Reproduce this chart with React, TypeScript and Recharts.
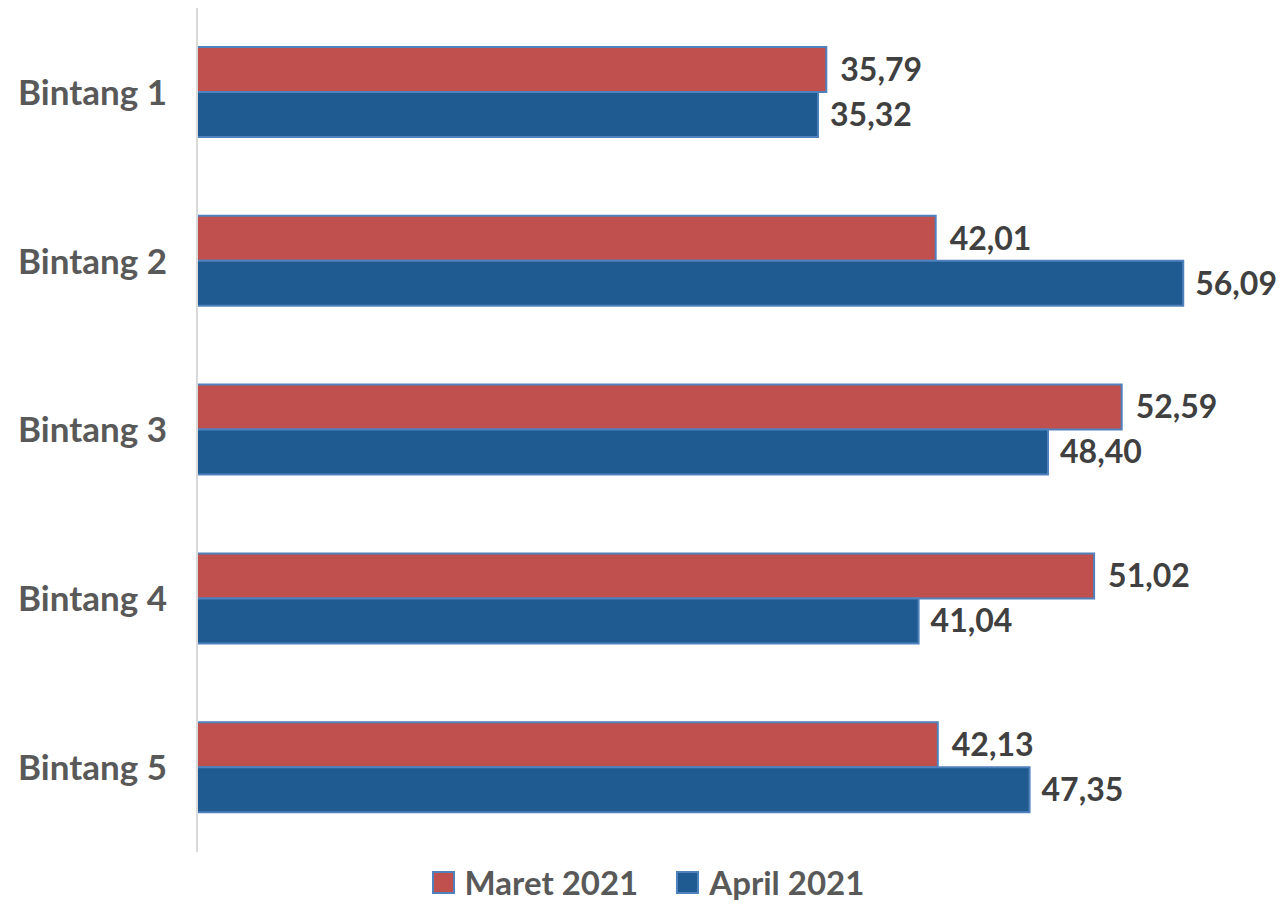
import { Bar, BarChart, LabelList, Legend, XAxis, YAxis } from "recharts";

const categories = ["Bintang 1", "Bintang 2", "Bintang 3", "Bintang 4", "Bintang 5"];
const maret2021 = [35.79, 42.01, 52.59, 51.02, 42.13];
const april2021 = [35.32, 56.09, 48.4, 41.04, 47.35];

const data = categories.map((name, i) => ({
  name,
  maret: maret2021[i],
  april: april2021[i],
}));

const FONT = "Lato, 'Open Sans', sans-serif";
const RED = "#C0504D";
const BLUE = "#1F5A91";
const BORDER = "#4F81BD";

function formatValue(v: unknown): string {
  return Number(v).toFixed(2).replace(".", ",");
}

function LegendContent() {
  const items = [
    { label: "Maret 2021", fill: RED },
    { label: "April 2021", fill: BLUE },
  ];
  return (
    <div
      style={{
        display: "flex",
        justifyContent: "center",
        gap: 38,
        paddingTop: 12,
        fontFamily: FONT,
        marginLeft: 44,
      }}
    >
      {items.map((it) => (
        <div key={it.label} style={{ display: "flex", alignItems: "center", gap: 10 }}>
          <span
            style={{
              width: 19,
              height: 19,
              background: it.fill,
              border: `2px solid ${BORDER}`,
              display: "inline-block",
            }}
          />
          <span style={{ fontSize: 33, lineHeight: 1.1, fontWeight: 700, color: "#595959" }}>
            {it.label}
          </span>
        </div>
      ))}
    </div>
  );
}

export default function App() {
  return (
    <div style={{ position: "absolute", left: 0, top: 0, background: "#fff" }}>
      <BarChart
        width={1282}
        height={904}
        data={data}
        layout="vertical"
        margin={{ top: 8, right: 30, left: 0, bottom: 0 }}
        barGap={0}
        barSize={45}
      >
        <XAxis type="number" domain={[0, 60]} hide />
        <YAxis
          type="category"
          dataKey="name"
          width={197}
          tickLine={false}
          axisLine={{ stroke: "#D9D9D9", strokeWidth: 2 }}
          tickMargin={24}
          tick={{ fontSize: 35, fontWeight: 700, fill: "#595959", fontFamily: FONT }}
        />
        <Legend verticalAlign="bottom" height={52} content={<LegendContent />} />
        <Bar dataKey="maret" fill={RED} stroke={BORDER} strokeWidth={2} isAnimationActive={false}>
          <LabelList
            dataKey="maret"
            position="right"
            offset={14}
            formatter={formatValue}
            style={{ fontSize: 32, fontWeight: 700, fill: "#404040", fontFamily: FONT }}
          />
        </Bar>
        <Bar dataKey="april" fill={BLUE} stroke={BORDER} strokeWidth={2} isAnimationActive={false}>
          <LabelList
            dataKey="april"
            position="right"
            offset={12}
            formatter={formatValue}
            style={{ fontSize: 32, fontWeight: 700, fill: "#404040", fontFamily: FONT }}
          />
        </Bar>
      </BarChart>
    </div>
  );
}
